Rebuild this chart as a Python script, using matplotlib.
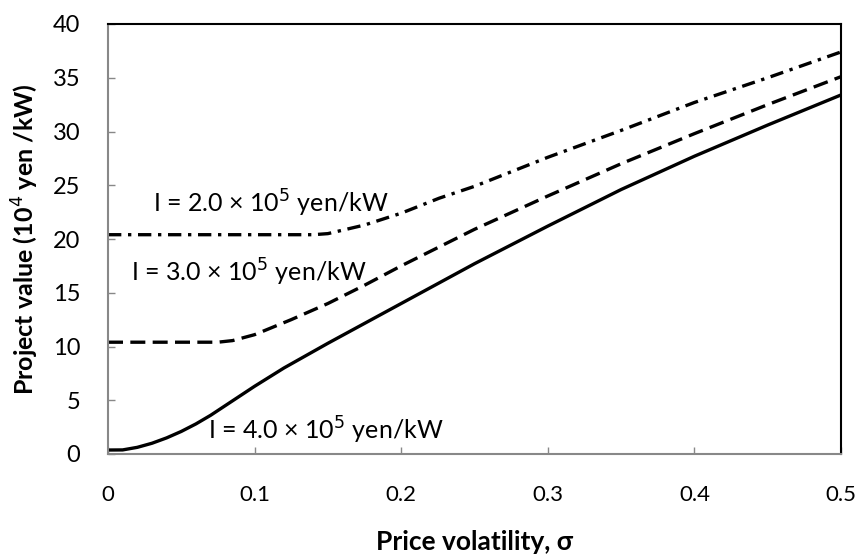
import matplotlib
matplotlib.use('Agg')
import matplotlib.pyplot as plt

# price volatility (sigma) and project value (10^4 yen/kW)
sigma_40 = [0.0, 0.01, 0.02, 0.03, 0.04, 0.05, 0.06, 0.07, 0.08, 0.09, 0.10,
            0.12, 0.15, 0.20, 0.25, 0.30, 0.35, 0.40, 0.45, 0.50]
value_40 = [0.37, 0.38, 0.62, 1.0, 1.5, 2.1, 2.8, 3.6, 4.5, 5.4, 6.3,
            8.0, 10.3, 14.0, 17.7, 21.2, 24.6, 27.7, 30.6, 33.4]

sigma_30 = [0.0, 0.075, 0.085, 0.10, 0.125, 0.15, 0.175, 0.20, 0.25,
            0.30, 0.35, 0.40, 0.45, 0.50]
value_30 = [10.4, 10.4, 10.55, 11.1, 12.5, 14.0, 15.7, 17.5, 20.9,
            24.0, 27.0, 29.8, 32.5, 35.1]

sigma_20 = [0.0, 0.14, 0.15, 0.175, 0.20, 0.226, 0.25, 0.30, 0.35,
            0.40, 0.45, 0.50]
value_20 = [20.4, 20.4, 20.5, 21.3, 22.4, 23.8, 24.9, 27.6, 30.1,
            32.7, 35.0, 37.4]

x_ticks = [0, 0.1, 0.2, 0.3, 0.4, 0.5]
x_tick_labels = ['0', '0.1', '0.2', '0.3', '0.4', '0.5']
y_ticks = [0, 5, 10, 15, 20, 25, 30, 35, 40]

plt.rcParams['font.family'] = ['Lato', 'DejaVu Sans']

fig = plt.figure(figsize=(8.6, 5.57), dpi=100)
ax = fig.add_axes([108 / 860, 1 - 454 / 557, 733 / 860, 430 / 557])

ax.plot(sigma_40, value_40, color='black', lw=2.4)
ax.plot(sigma_30, value_30, color='black', lw=2.4, dashes=(4.5, 2.2))
ax.plot(sigma_20, value_20, color='black', lw=2.4, dashes=(4, 2, 1, 2))

ax.set_xlim(0, 0.5)
ax.set_ylim(0, 40)
ax.set_xticks(x_ticks)
ax.set_xticklabels(x_tick_labels)
ax.set_yticks(y_ticks)

ax.tick_params(direction='in', length=5, width=1, color='#888888', pad=20)
ax.tick_params(axis='y', labelsize=17)
ax.tick_params(axis='x', labelsize=16, pad=22)
for side in ['left', 'bottom']:
    ax.spines[side].set_color('#888888')
    ax.spines[side].set_linewidth(1.5)
for side in ['top', 'right']:
    ax.spines[side].set_color('black')
    ax.spines[side].set_linewidth(1.5)

ax.set_xlabel('Price volatility, σ', fontsize=19, fontweight='bold', labelpad=18)
ax.set_ylabel('Project value (10$^4$ yen /kW)', fontsize=18, fontweight='bold',
              labelpad=8)

ax.text(0.031, 23.3, 'I = 2.0 × 10$^5$ yen/kW', fontsize=18, va='center')
ax.text(0.016, 16.9, 'I = 3.0 × 10$^5$ yen/kW', fontsize=18, va='center')
ax.text(0.068, 2.2, 'I = 4.0 × 10$^5$ yen/kW', fontsize=18, va='center')

fig.savefig('out.png', dpi=100)
